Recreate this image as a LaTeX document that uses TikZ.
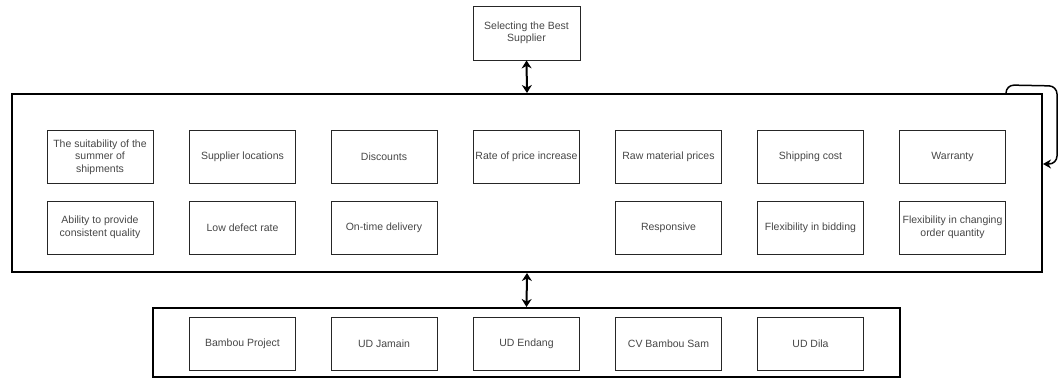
\documentclass[tikz,border=0pt]{standalone}
\usepackage{fontspec}
\setmainfont{Liberation Sans}
\usetikzlibrary{arrows.meta}
\begin{document}
\begin{tikzpicture}[x=1pt,y=-1pt,
  item/.style={draw=black!85, line width=0.9pt, minimum width=106pt, minimum height=53pt,
    inner sep=1pt, align=center, font=\fontsize{10.5}{12.5}\selectfont, text=black!72},
  frame/.style={draw=black, line width=2pt, minimum width=1030pt, minimum height=178pt},
  link/.style={line width=2pt, {Stealth[length=8pt,width=10pt]}-{Stealth[length=8pt,width=10pt]}},
  loop/.style={line width=1.5pt, rounded corners=8pt, -{Stealth[length=8pt,width=9pt]}}
]
\useasboundingbox (0,0) rectangle (1059,379);
\fill[white] (0,0) rectangle (1059,379);

% top box
\node[item, minimum width=107pt, minimum height=54pt] (top) at (526.5,33) {Selecting the Best\\Supplier};

% middle frame
\node[frame] (mid) at (527,183) {};

% bottom frame
\node[frame, minimum width=747pt, minimum height=69pt] (bot) at (526.5,342.5) {};

% row 1
\node[item] (c11) at (100,157)   {The suitability of the\\summer of\\shipments};
\node[item] (c12) at (242.5,157) {Supplier locations};
\node[item] (c13) at (384,157)   {Discounts};
\node[item] (c14) at (526.5,157) {Rate of price increase};
\node[item] (c15) at (668.5,157) {Raw material prices};
\node[item] (c16) at (810.5,157) {Shipping cost};
\node[item] (c17) at (952.5,157) {Warranty};

% row 2
\node[item] (c21) at (100,227.5)   {Ability to provide\\consistent quality};
\node[item] (c22) at (242.5,227.5) {Low defect rate};
\node[item] (c23) at (384,227.5)   {On-time delivery};
\node[item] (c25) at (668.5,227.5) {Responsive};
\node[item] (c26) at (810.5,227.5) {Flexibility in bidding};
\node[item] (c27) at (952.5,227.5) {Flexibility in changing\\order quantity};

% suppliers
\node[item] (s1) at (242.5,343.5) {Bambou Project};
\node[item] (s2) at (384,343.5)   {UD Jamain};
\node[item] (s3) at (526.5,343.5) {UD Endang};
\node[item] (s4) at (668.5,343.5) {CV Bambou Sam};
\node[item] (s5) at (810.5,343.5) {UD Dila};

% connectors
\draw[link] (top.south) -- (mid.north);
\draw[link] (mid.south) -- (bot.north);
\draw[loop] ([xshift=-37pt]mid.north east) -- ++(0,-8) -- (1057,86) -- (1057,164) -- ([yshift=19pt]mid.east);
\end{tikzpicture}
\end{document}
